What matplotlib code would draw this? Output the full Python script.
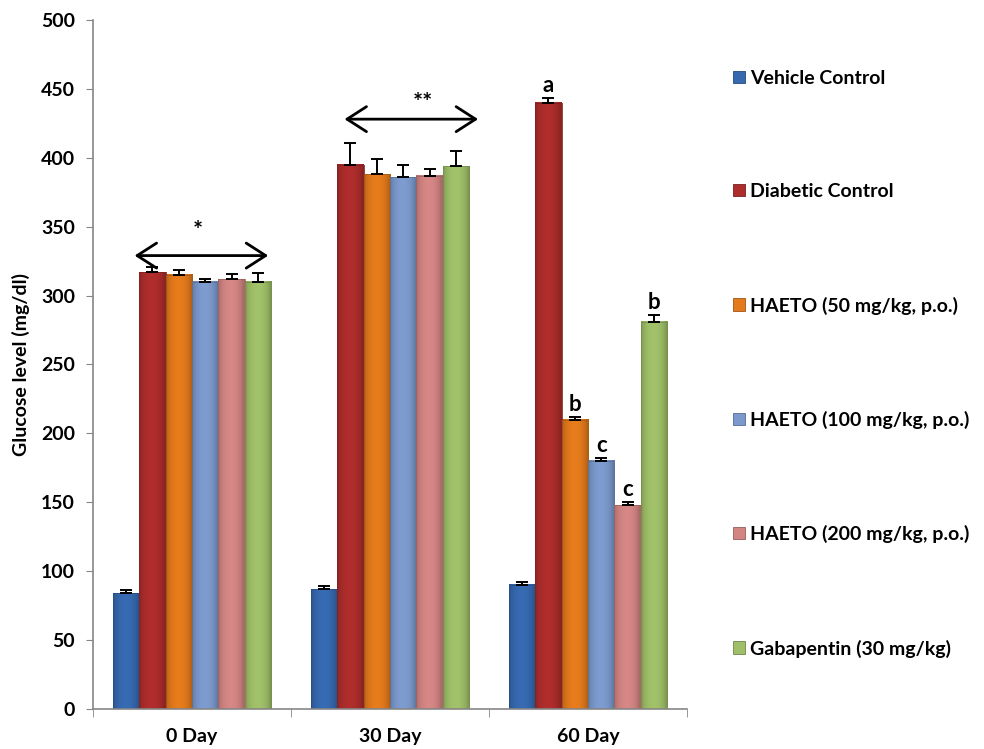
import numpy as np
import matplotlib
matplotlib.use("Agg")
import matplotlib.pyplot as plt
from matplotlib.patches import Patch
from matplotlib.colors import to_rgb

plt.rcParams['font.family'] = ['Lato', 'DejaVu Sans']
plt.rcParams['font.weight'] = 'bold'

# groupes (jours) et traitements
jours = ['0 Day', '30 Day', '60 Day']
traitements = ['Vehicle Control', 'Diabetic Control', 'HAETO (50 mg/kg, p.o.)',
               'HAETO (100 mg/kg, p.o.)', 'HAETO (200 mg/kg, p.o.)', 'Gabapentin (30 mg/kg)']
couleurs = ['#3669b0', '#ad2d2c', '#e37a1c', '#7b99cc', '#d38583', '#9fbf68']

# glycemie moyenne (mg/dl) et erreur standard
vehicle = [84, 87, 90]
diabetic = [317, 395, 440]
haeto50 = [315, 388, 210]
haeto100 = [310, 386, 180]
haeto200 = [312, 387, 148]
gabapentin = [310, 394, 281]

err_vehicle = [2.5, 2.5, 2]
err_diabetic = [3.5, 16, 3.5]
err_haeto50 = [3.5, 11, 2]
err_haeto100 = [2, 9, 2]
err_haeto200 = [4, 5, 2]
err_gabapentin = [6.5, 11, 5]

# lettres de significativite au jour 60
lettres_60 = ['', 'a', 'b', 'c', 'c', 'b']

valeurs = [vehicle, diabetic, haeto50, haeto100, haeto200, gabapentin]
erreurs = [err_vehicle, err_diabetic, err_haeto50, err_haeto100, err_haeto200, err_gabapentin]


def barre_degrade(ax, x0, largeur, h, couleur):
    # remplissage avec un degrade horizontal (effet cylindre)
    t = np.linspace(0, 1, 60)
    shade = 0.80 + 0.22 * np.sin(np.pi * np.clip(t * 1.1 - 0.02, 0, 1)) ** 0.6
    c = np.array(to_rgb(couleur))
    img = np.clip(c[None, None, :] * shade[None, :, None], 0, 1)
    ax.imshow(img, extent=[x0, x0 + largeur, 0, h], aspect='auto', zorder=2,
              interpolation='bicubic')
    ax.plot([x0, x0, x0 + largeur, x0 + largeur], [0, h, h, 0], color=c * 0.75,
            lw=0.6, zorder=2.5)


fig = plt.figure(figsize=(9.84, 7.49), dpi=100)
ax = fig.add_axes([0.0945, 0.0534, 0.6037, 0.920])

n = len(traitements)
largeur = 0.8 / n
x = np.arange(len(jours))

for i in range(n):
    pos = x - 0.4 + i * largeur
    for j in range(len(jours)):
        barre_degrade(ax, pos[j], largeur, valeurs[i][j], couleurs[i])
    ax.errorbar(pos + largeur / 2, valeurs[i],
                yerr=[np.zeros(len(jours)), erreurs[i]],
                fmt='none', ecolor='black', elinewidth=1.4, capsize=4.5, capthick=1.4, zorder=4)

# lettres au dessus des barres du jour 60
for i in range(n):
    if lettres_60[i]:
        xc = x[2] - 0.4 + i * largeur + largeur / 2
        ax.text(xc, valeurs[i][2] + erreurs[i][2] + 1.5, lettres_60[i],
                ha='center', va='bottom', fontsize=16, fontweight='bold')

# fleches et etoiles pour les jours 0 et 30
fleche = dict(arrowstyle='<->,head_length=0.7,head_width=0.45', lw=2, color='black',
              mutation_scale=20, shrinkA=0, shrinkB=0)
ax.annotate('', xy=(0.385, 329), xytext=(-0.29, 329), arrowprops=fleche)
ax.text(0.03, 338, '*', ha='center', va='bottom', fontsize=17, fontweight='bold')
ax.annotate('', xy=(1.445, 428), xytext=(0.77, 428), arrowprops=fleche)
ax.text(1.165, 431, '**', ha='center', va='bottom', fontsize=17, fontweight='bold')

ax.set_xlim(-0.5, 2.5)
ax.set_ylim(0, 500)
ax.set_yticks(np.arange(0, 501, 50))
ax.tick_params(axis='y', labelsize=14, length=5, color='#868686', pad=8)
ax.set_xticks(x)
ax.set_xticklabels(jours, fontsize=14, fontweight='bold')
ax.tick_params(axis='x', length=0, pad=14)
ax.set_xticks([-0.5, 0.5, 1.5, 2.5], minor=True)
ax.tick_params(axis='x', which='minor', length=6, color='#868686', direction='out')
for lab in ax.get_yticklabels():
    lab.set_fontweight('bold')

for s in ['top', 'right']:
    ax.spines[s].set_visible(False)
for s in ['left', 'bottom']:
    ax.spines[s].set_color('#868686')
    ax.spines[s].set_linewidth(1.2)

ax.set_ylabel('Glucose level (mg/dl)', fontsize=14, fontweight='bold', labelpad=8)

handles = [Patch(facecolor=c, edgecolor=np.array(to_rgb(c)) * 0.7, lw=0.6) for c in couleurs]
fig.legend(handles, traitements, loc='upper left', bbox_to_anchor=(0.727, 0.93),
           frameon=False, prop={'weight': 'bold', 'size': 14},
           handlelength=0.6, handleheight=0.6, handletextpad=0.3, labelspacing=4.95)

plt.savefig('out.png', dpi=100)
